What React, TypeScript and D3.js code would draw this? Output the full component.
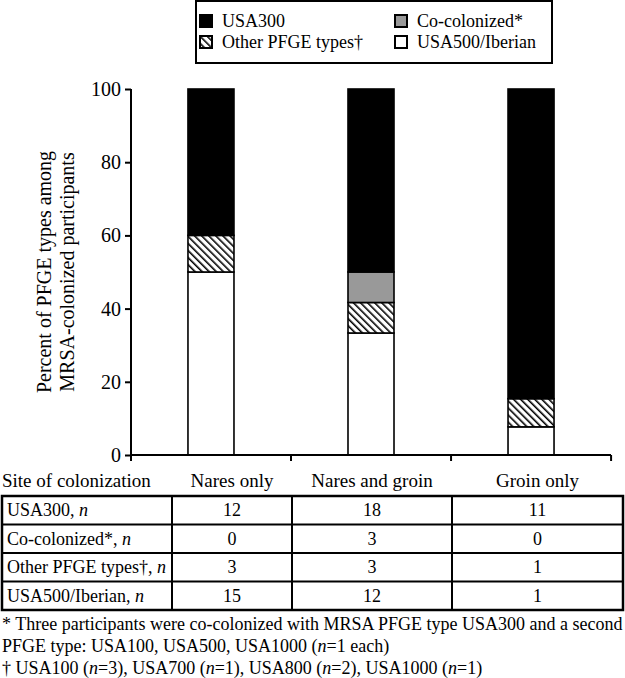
import React, { useEffect, useRef } from 'react';
import * as d3 from 'd3';

// counts per site (from the table)
const sites = ['Nares only', 'Nares and groin', 'Groin only'];
const usa300 = [12, 18, 11];
const coColonized = [0, 3, 0];
const otherTypes = [3, 3, 1];
const usa500 = [15, 12, 1];
const yTicks = [0, 20, 40, 60, 80, 100];

const rowLabels = ['USA300, ', 'Co-colonized*, ', 'Other PFGE types†, ', 'USA500/Iberian, '];
const rowValues = [usa300, coColonized, otherTypes, usa500];

const legendItems = [
  { key: 'usa300', label: 'USA300', fill: '#000' },
  { key: 'co', label: 'Co-colonized*', fill: '#999' },
  { key: 'other', label: 'Other PFGE types†', fill: 'url(#hatch)' },
  { key: 'usa500', label: 'USA500/Iberian', fill: '#fff' },
];

const FONT = '"Liberation Serif", "Times New Roman", serif';

const App: React.FC = () => {
  const svgRef = useRef<SVGSVGElement>(null);

  useEffect(() => {
    if (!svgRef.current) return;
    const svg = d3.select(svgRef.current);
    svg.selectAll('*').remove();

    const defs = svg.append('defs');
    const pat = defs.append('pattern')
      .attr('id', 'hatch')
      .attr('patternUnits', 'userSpaceOnUse')
      .attr('width', 5)
      .attr('height', 5)
      .attr('patternTransform', 'rotate(-45)');
    pat.append('rect').attr('width', 5).attr('height', 5).attr('fill', '#fff');
    pat.append('line')
      .attr('x1', 0).attr('y1', 0).attr('x2', 0).attr('y2', 5)
      .attr('stroke', '#000').attr('stroke-width', 3.2);

    const data = sites.map((s, i) => {
      const total = usa300[i] + coColonized[i] + otherTypes[i] + usa500[i];
      return {
        site: s,
        usa500: (usa500[i] / total) * 100,
        other: (otherTypes[i] / total) * 100,
        co: (coColonized[i] / total) * 100,
        usa300: (usa300[i] / total) * 100,
      };
    });

    const keys = ['usa500', 'other', 'co', 'usa300'];
    const fills: Record<string, string> = {
      usa500: '#fff', other: 'url(#hatch)', co: '#999', usa300: '#000',
    };
    const stacked = d3.stack<any>().keys(keys)(data);

    const x = d3.scaleBand<string>()
      .domain(sites)
      .range([131, 611])
      .paddingInner(0.7125)
      .paddingOuter(0.356);
    const y = d3.scaleLinear().domain([0, 100]).range([455, 89]);

    const g = svg.append('g');

    // bars
    stacked.forEach(layer => {
      g.append('g')
        .selectAll('rect')
        .data(layer.filter(d => d[1] - d[0] > 0))
        .join('rect')
        .attr('x', d => x(d.data.site)!)
        .attr('width', x.bandwidth())
        .attr('y', d => y(d[1]))
        .attr('height', d => y(d[0]) - y(d[1]))
        .attr('fill', fills[layer.key])
        .attr('stroke', '#000')
        .attr('stroke-width', 1.6);
    });

    // y axis
    const yAxis = g.append('g')
      .attr('transform', 'translate(131,0)')
      .call(d3.axisLeft(y).tickValues(yTicks).tickSize(6).tickPadding(4));
    yAxis.select('.domain').attr('stroke-width', 2).attr('d', `M-0,${y(100)}V${y(0)}`);
    yAxis.selectAll('.tick line').attr('stroke-width', 2);
    yAxis.selectAll('text').attr('font-family', FONT).attr('font-size', 20).attr('fill', '#000');

    // x axis: ticks at category boundaries
    const bounds = [131, ...sites.map(s => x(s)! - x.step() * x.paddingOuter() + x.step())];
    g.append('line')
      .attr('x1', 131).attr('x2', 611).attr('y1', 455).attr('y2', 455)
      .attr('stroke', '#000').attr('stroke-width', 2);
    g.selectAll('.xtick')
      .data(bounds)
      .join('line')
      .attr('class', 'xtick')
      .attr('x1', d => d).attr('x2', d => d)
      .attr('y1', 455).attr('y2', 461)
      .attr('stroke', '#000').attr('stroke-width', 2);

    // y axis title
    const yTitle = g.append('text')
      .attr('transform', `translate(0,${(y(0) + y(100)) / 2}) rotate(-90)`)
      .attr('text-anchor', 'middle')
      .attr('font-family', FONT)
      .attr('font-size', 20);
    yTitle.append('tspan').attr('x', 0).attr('y', 51).text('Percent of PFGE types among');
    yTitle.append('tspan').attr('x', 0).attr('y', 74).text('MRSA-colonized participants');

    // legend
    const lg = svg.append('g');
    lg.append('rect')
      .attr('x', 196).attr('y', 1).attr('width', 356).attr('height', 62)
      .attr('fill', '#fff').attr('stroke', '#000').attr('stroke-width', 2);
    legendItems.forEach((item, i) => {
      const col = i % 2;
      const row = Math.floor(i / 2);
      const lx = col === 0 ? 200 : 395;
      const ly = row === 0 ? 15 : 36;
      lg.append('rect')
        .attr('x', lx).attr('y', ly).attr('width', 12).attr('height', 12)
        .attr('fill', item.fill).attr('stroke', '#000').attr('stroke-width', 2);
      lg.append('text')
        .attr('x', lx + 22).attr('y', ly + 12)
        .attr('font-family', FONT).attr('font-size', 18)
        .text(item.label);
    });

    // table
    const colEdges = [2, 172, 292, 452, 623];
    const rowTop = 496;
    const rowH = 28.5;
    const tg = svg.append('g').attr('font-family', FONT).attr('font-size', 18);

    tg.append('text').attr('x', 2).attr('y', 487).attr('font-size', 19).text('Site of colonization');
    sites.forEach((s, i) => {
      tg.append('text')
        .attr('x', (colEdges[i + 1] + colEdges[i + 2]) / 2)
        .attr('y', 487)
        .attr('font-size', 19)
        .attr('text-anchor', 'middle')
        .text(s);
    });

    rowLabels.forEach((label, r) => {
      const ty = rowTop + r * rowH + rowH / 2 + 6;
      const t = tg.append('text').attr('x', 7).attr('y', ty);
      t.append('tspan').text(label);
      t.append('tspan').attr('font-style', 'italic').text('n');
      rowValues[r].forEach((v, c) => {
        tg.append('text')
          .attr('x', (colEdges[c + 1] + colEdges[c + 2]) / 2)
          .attr('y', ty)
          .attr('text-anchor', 'middle')
          .text(v);
      });
    });

    const tableBottom = rowTop + rowValues.length * rowH;
    for (let r = 1; r < rowValues.length; r++) {
      tg.append('line')
        .attr('x1', colEdges[0]).attr('x2', colEdges[4])
        .attr('y1', rowTop + r * rowH).attr('y2', rowTop + r * rowH)
        .attr('stroke', '#000').attr('stroke-width', 2);
    }
    colEdges.slice(1, 4).forEach(cx => {
      tg.append('line')
        .attr('x1', cx).attr('x2', cx).attr('y1', rowTop).attr('y2', tableBottom)
        .attr('stroke', '#000').attr('stroke-width', 2);
    });
    tg.append('rect')
      .attr('x', colEdges[0]).attr('y', rowTop)
      .attr('width', colEdges[4] - colEdges[0]).attr('height', tableBottom - rowTop)
      .attr('fill', 'none').attr('stroke', '#000').attr('stroke-width', 2.5);

    // footnotes
    const f1 = tg.append('text').attr('x', 2).attr('y', 630);
    f1.text('* Three participants were co-colonized with MRSA PFGE type USA300 and a second');
    const f2 = tg.append('text').attr('x', 2).attr('y', 652);
    f2.append('tspan').text('PFGE type: USA100, USA500, USA1000 (');
    f2.append('tspan').attr('font-style', 'italic').text('n');
    f2.append('tspan').text('=1 each)');
    const f3 = tg.append('text').attr('x', 2).attr('y', 674);
    const parts: [string, boolean][] = [
      ['† USA100 (', false], ['n', true], ['=3), USA700 (', false], ['n', true],
      ['=1), USA800 (', false], ['n', true], ['=2), USA1000 (', false], ['n', true], ['=1)', false],
    ];
    parts.forEach(([txt, it]) => {
      const sp = f3.append('tspan').text(txt);
      if (it) sp.attr('font-style', 'italic');
    });
  }, []);

  return (
    <div style={{ position: 'fixed', left: 0, top: 0, background: '#fff' }}>
      <svg ref={svgRef} width={625} height={678} style={{ display: 'block' }} />
    </div>
  );
};

export default App;
